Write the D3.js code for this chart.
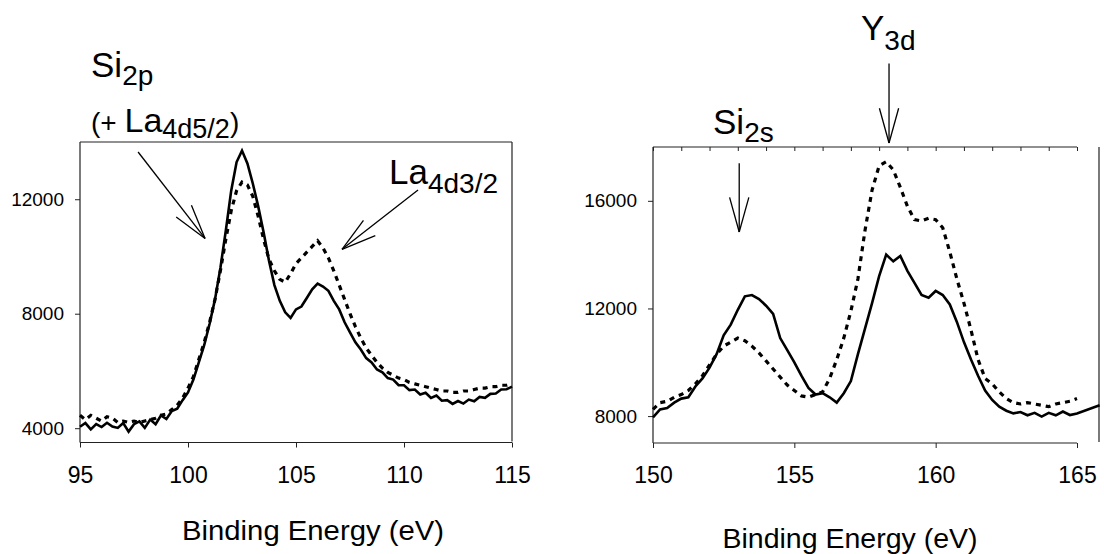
<!DOCTYPE html>
<html><head><meta charset="utf-8">
<script src="https://cdn.jsdelivr.net/npm/d3@7"></script>
<style>
body{margin:0;background:#fff}
svg{display:block}
text{font-family:"Liberation Sans", Arial, Helvetica, sans-serif; fill:#000}
</style>
</head><body>
<svg id="c" width="1104" height="554"></svg>
<script>
// ---------- DATA ----------
// Left panel: Si2p / La4d region (0.25 eV sampling)
const leftEnergy = d3.range(95, 115.001, 0.25);
const leftSolid = [
  4050, 4180, 3960, 4140,   4040, 4190, 4060, 4010,   4180, 3880, 4140, 4240,
  4010, 4300, 4140, 4450,   4320, 4600, 4680, 4980,   5250, 5700, 6300, 6900,
  7650, 8500, 9600, 10900,  12300, 13300, 13700, 13250, 12550, 11750, 10850, 9850,
  9000, 8450, 8050, 7850,   8150, 8250, 8550, 8850,   9050, 8950, 8800, 8450,
  8150, 7700, 7350, 7000,   6750, 6450, 6300, 6050,   5950, 5750, 5700, 5500,
  5500, 5330, 5350, 5180,   5240, 5060, 5140, 4960,   4980, 4850, 4950, 4860,
  5000, 4940, 5090, 5060,   5200, 5210, 5350, 5360,   5450
];
const leftDashed = [
  4450, 4300, 4450, 4350,   4250, 4400, 4350, 4200,   4250, 4200, 4250, 4200,
  4250, 4300, 4350, 4450,   4500, 4650, 4800, 5050,   5400, 5800, 6400, 7000,
  7700, 8500, 9500, 10600,  11600, 12300, 12600, 12500, 12100, 11400, 10600, 9900,
  9500, 9200, 9100, 9400,   9750, 9950, 10150, 10350, 10550, 10300, 9950, 9500,
  9000, 8500, 8000, 7550,   7150, 6800, 6550, 6300,   6100, 5950, 5850, 5750,
  5700, 5600, 5550, 5500,   5450, 5400, 5350, 5300,   5300, 5250, 5250, 5300,
  5300, 5350, 5400, 5400,   5450, 5450, 5500, 5500,   5550
];
const leftXTicks = [95, 100, 105, 110, 115];
const leftYTicks = [4000, 8000, 12000];

// Right panel: Si2s / Y3d region
const rightEnergy = d3.range(150, 165.001, 0.25);
const rightSolidEnergy = rightEnergy.concat([165.8]);
const rightSolid = [
  7950, 8250, 8300, 8500,   8650, 8700, 9100, 9400,   9800, 10300, 11000, 11400,
  11950, 12450, 12500, 12350, 12100, 11800, 10900, 10450, 10000, 9500, 9050, 8800,
  8850, 8700, 8500, 8850,   9300, 10300, 11250, 12200, 13200, 14000, 13750, 13950,
  13400, 12950, 12500, 12400, 12650, 12500, 12150, 11500, 10750, 10100, 9500, 8950,
  8600, 8350, 8200, 8100,   8150, 8030, 8120, 7980,   8120, 8030, 8170, 8040,
  8100, 8400
];
const rightDashed = [
  8250, 8500, 8550, 8700,   8800, 8950, 9200, 9500,   9900, 10300, 10600, 10750,
  10900, 10800, 10600, 10350, 10050, 9750, 9450, 9150,  8950, 8750, 8700, 8800,
  8900, 9400, 10100, 10900, 11900, 13100, 14900, 16400, 17300, 17450, 17150, 16500,
  15800, 15300, 15250, 15350, 15300, 15000, 14100, 13100, 12200, 11200, 10100, 9400,
  9200, 8900, 8650, 8500,   8450, 8500, 8450, 8400,   8350, 8450, 8500, 8550,
  8650
];
const rightXTicks = [150, 155, 160, 165];
const rightYTicks = [8000, 12000, 16000];
const rightMinorTicks = d3.range(150, 165.001, 1);

const axisTitle = "Binding Energy (eV)";

// ---------- DRAW ----------
const svg = d3.select('#c');
svg.append('rect').attr('width', 1104).attr('height', 554).attr('fill', '#fff');

const frameColor = '#222';
const FONT = '"Liberation Sans", Arial, sans-serif';

function drawPanel(cfg) {
  const x = d3.scaleLinear().domain(cfg.xDomain).range(cfg.xRange);
  const y = d3.scaleLinear().domain(cfg.yDomain).range(cfg.yRange);
  const g = svg.append('g');
  const [x0, x1] = cfg.xRange, [yb, yt] = cfg.yRange;

  // y axis
  const ya = g.append('g').attr('transform', `translate(${x0},0)`)
    .call(d3.axisLeft(y).tickValues(cfg.yTicks).tickSize(5).tickPadding(11).tickFormat(d => String(d)));
  ya.select('.domain').remove();
  ya.selectAll('line').attr('stroke', frameColor);
  ya.selectAll('text').attr('font-size', 19).attr('font-family', FONT).attr('fill', '#000');

  // x axis
  const xa = g.append('g').attr('transform', `translate(0,${yb})`)
    .call(d3.axisBottom(x).tickValues(cfg.xTicks).tickSize(5).tickPadding(19).tickFormat(d => String(d)));
  xa.select('.domain').remove();
  xa.selectAll('line').attr('stroke', frameColor);
  xa.selectAll('text').attr('font-size', 23).attr('font-family', FONT).attr('fill', '#000');

  // frame lines
  const fl = (ax, ay, bx, by) => g.append('line').attr('x1', ax).attr('y1', ay).attr('x2', bx).attr('y2', by)
    .attr('stroke', frameColor).attr('stroke-width', 1.2);
  fl(x0, yt, x0, yb);
  fl(x0, yb, x1, yb);
  fl(x0, yt, x1, yt);
  if (cfg.rightBorder != null) fl(cfg.rightBorder, yt, cfg.rightBorder, yb - 1);

  if (cfg.minorTop) {
    const ta = g.append('g').attr('transform', `translate(0,${yt})`)
      .call(d3.axisBottom(x).tickValues(cfg.minorTop).tickSize(4).tickFormat(''));
    ta.select('.domain').remove();
    ta.selectAll('line').attr('stroke', frameColor);
  }

  // curves
  const line = d3.line().x(d => x(d[0])).y(d => y(d[1]));
  g.append('path').datum(d3.zip(cfg.dashedE, cfg.dashed))
    .attr('d', line).attr('fill', 'none').attr('stroke', '#000')
    .attr('stroke-width', 3.2).attr('stroke-dasharray', '5,5');
  g.append('path').datum(d3.zip(cfg.solidE, cfg.solid))
    .attr('d', line).attr('fill', 'none').attr('stroke', '#000')
    .attr('stroke-width', 2.6).attr('stroke-linejoin', 'miter');

  // axis title
  g.append('text').attr('x', cfg.titleX).attr('y', cfg.titleY)
    .attr('text-anchor', 'middle').attr('font-size', 27)
    .attr('textLength', cfg.titleW).attr('lengthAdjust', 'spacingAndGlyphs')
    .text(axisTitle);

  return {x, y, g};
}

const L = drawPanel({
  xDomain: [95, 115], xRange: [80, 512], yDomain: [3500, 14000], yRange: [442.5, 142],
  xTicks: leftXTicks, yTicks: leftYTicks, rightBorder: 512,
  solidE: leftEnergy, solid: leftSolid, dashedE: leftEnergy, dashed: leftDashed,
  titleX: 313, titleY: 540, titleW: 262
});
const R = drawPanel({
  xDomain: [150, 165], xRange: [653, 1077], yDomain: [7000, 18000], yRange: [443, 147],
  xTicks: rightXTicks, yTicks: rightYTicks, rightBorder: 1099, minorTop: rightMinorTicks,
  solidE: rightSolidEnergy, solid: rightSolid, dashedE: rightEnergy, dashed: rightDashed,
  titleX: 850, titleY: 548, titleW: 255
});

// ---------- ANNOTATIONS ----------
function arrow(P, from, to) {
  const ax = P.x(from[0]), ay = P.y(from[1]), bx = P.x(to[0]), by = P.y(to[1]);
  const ang = Math.atan2(ay - by, ax - bx), len = 36, spread = 15.5 * Math.PI / 180;
  const g = svg.append('g').attr('stroke', '#000').attr('stroke-width', 1.3).attr('fill', 'none');
  g.append('line').attr('x1', ax).attr('y1', ay).attr('x2', bx).attr('y2', by);
  [-spread, spread].forEach(s => {
    g.append('line').attr('x1', bx).attr('y1', by)
      .attr('x2', bx + len * Math.cos(ang + s)).attr('y2', by + len * Math.sin(ang + s));
  });
}
function label(x, y, parts) {
  const t = svg.append('text').attr('x', x).attr('y', y);
  parts.forEach(p => t.append('tspan').attr('font-size', p.s).attr('dy', p.dy || 0).text(p.t));
}

// Left panel annotations (data coordinates)
arrow(L, [97.69, 13650], [100.79, 10630]);
arrow(L, [110.65, 12320], [107.13, 10250]);
label(91, 77, [{t: 'Si', s: 35}, {t: '2p', s: 28, dy: 8}]);
label(91, 132, [{t: '(+ ', s: 28}, {t: 'La', s: 34}, {t: '4d5/2', s: 27, dy: 6}, {t: ')', s: 28, dy: -6}]);
label(389, 184, [{t: 'La', s: 35}, {t: '4d3/2', s: 28, dy: 9}]);

// Right panel annotations
arrow(R, [158.35, 21100], [158.35, 18150]);
arrow(R, [153.05, 17400], [153.05, 14840]);
label(861, 40, [{t: 'Y', s: 35}, {t: '3d', s: 28, dy: 10}]);
label(713, 134, [{t: 'Si', s: 35}, {t: '2s', s: 28, dy: 8}]);
</script>
</body></html>
